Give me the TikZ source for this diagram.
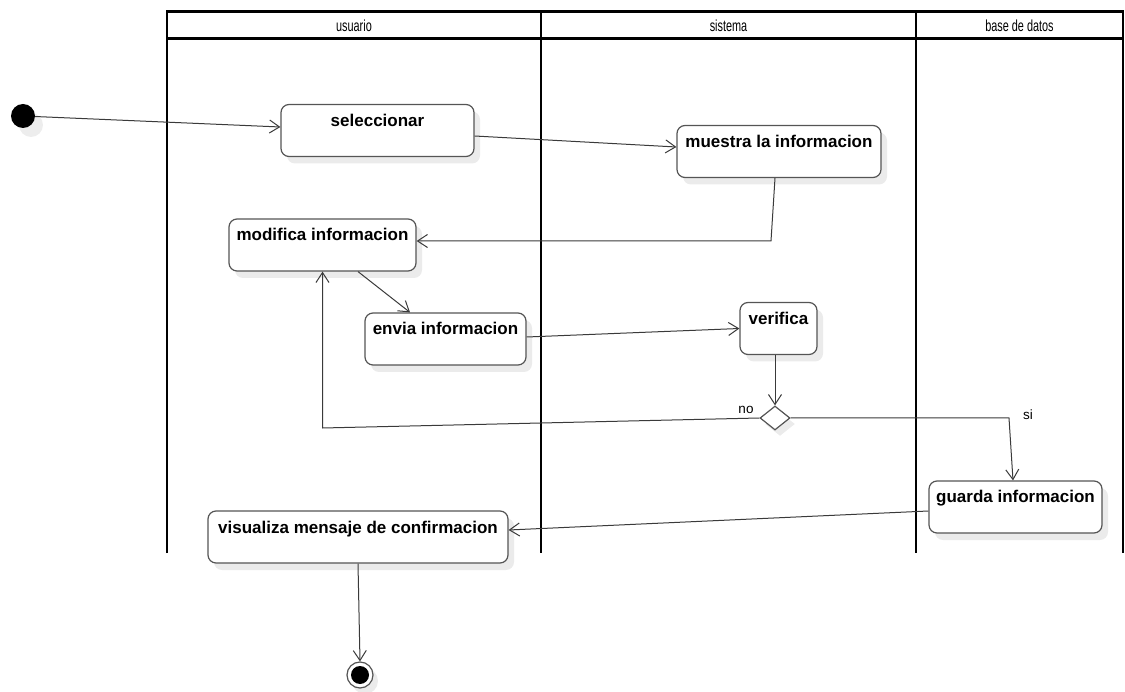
\documentclass[tikz,border=0pt]{standalone}
\usepackage{fontspec}
\setmainfont{Liberation Sans}
\newfontfamily\hdrfont[FakeStretch=0.68]{Liberation Sans}
\usetikzlibrary{arrows.meta,shapes.geometric,shadows}
\definecolor{boxgray}{HTML}{555555}
\definecolor{linegray}{HTML}{3A3A3A}
\begin{document}
\begin{tikzpicture}[x=1pt,y=-1pt,
  lane/.style={line width=2.2pt,black},
  hdr/.style={font=\hdrfont\fontsize{16}{18}\selectfont,inner sep=0pt},
  act/.style={rectangle,rounded corners=8pt,draw=boxgray,line width=1.2pt,fill=white,
    drop shadow={shadow xshift=6pt,shadow yshift=-7pt,fill=black,opacity=0.08},
    inner xsep=0pt,inner ysep=0pt,text height=22pt,text depth=30pt,minimum height=52pt,
    font=\bfseries\fontsize{17}{19}\selectfont},
  flow/.style={draw=linegray,line width=1pt,-{Straight Barb[length=10pt,width=13pt,line width=1pt]}},
  lbl/.style={font=\fontsize{13.5}{15}\selectfont,inner sep=0pt},
  decision/.style={diamond,draw=boxgray,line width=1.2pt,fill=white,minimum width=30pt,minimum height=24pt,inner sep=0pt,
    drop shadow={shadow xshift=5pt,shadow yshift=-6pt,fill=black,opacity=0.08}}
]
\useasboundingbox (0,0) rectangle (1125,692);
% swimlanes
\draw[lane] (167,553) -- (167,11.5) -- (1123,11.5) -- (1123,553);
\draw[lane] (167,38.5) -- (1123,38.5);
\draw[lane] (541,11.5) -- (541,553);
\draw[lane] (916,11.5) -- (916,553);
\node[hdr] (h1) at (354,26) {usuario};
\node[hdr] (h2) at (728.5,26) {sistema};
\node[hdr] (h3) at (1019.5,26) {base de datos};
% start / end
\node[circle,fill=black,minimum size=24pt,inner sep=0pt,
  drop shadow={shadow xshift=8pt,shadow yshift=-9pt,fill=black,opacity=0.07}] (init) at (23,116) {};
\node[circle,draw=boxgray,line width=1.2pt,fill=white,minimum size=26pt,inner sep=0pt,
  drop shadow={shadow xshift=5pt,shadow yshift=-6pt,fill=black,opacity=0.08},
  path picture={\fill[black] (path picture bounding box.center) circle (9pt);}] (fin) at (360,675) {};
% activities
\node[act,minimum width=193pt] (sel) at (377.5,130.5) {seleccionar};
\node[act,minimum width=204pt] (mue) at (779,151.5) {muestra la informacion};
\node[act,minimum width=187pt] (mod) at (322.5,245) {modifica informacion};
\node[act,minimum width=161pt] (env) at (445.5,339) {envia informacion};
\node[act,minimum width=77pt] (ver) at (778.5,328.5) {verifica};
\node[decision] (dia) at (775,418) {};
\node[act,minimum width=173pt] (gua) at (1015.5,507) {guarda informacion};
\node[act,minimum width=300pt] (vis) at (358,537) {visualiza mensaje de confirmacion};
% labels
\node[lbl] (no) at (746,410) {no};
\node[lbl] (si) at (1028,415) {si};
% helper coordinates
\coordinate (k1) at (771,241);
\coordinate (k2) at (322.5,428);
\coordinate (k3) at (1009,418);
% connectors
\draw[flow] (init) -- ([yshift=3.5pt]sel.west);
\draw[flow] ([yshift=-5.5pt]sel.east) -- ([yshift=4.5pt]mue.west);
\draw[flow] ([xshift=-4pt]mue.south) -- (k1) -- ([yshift=4pt]mod.east);
\draw[flow] ([xshift=35.5pt]mod.south) -- ([xshift=-35.5pt]env.north);
\draw[flow] ([yshift=2pt]env.east) -- (ver.west);
\draw[flow] (ver.south -| dia.north) -- (dia.north);
\draw[flow] (dia.west) -- (k2) -- (mod.south);
\draw[flow] (dia.east) -- (k3) -- ([xshift=-2.5pt]gua.north);
\draw[flow] ([yshift=-4pt]gua.west) -- ([yshift=7pt]vis.east);
\draw[flow] (vis.south) -- (fin.north);
\end{tikzpicture}
\end{document}
